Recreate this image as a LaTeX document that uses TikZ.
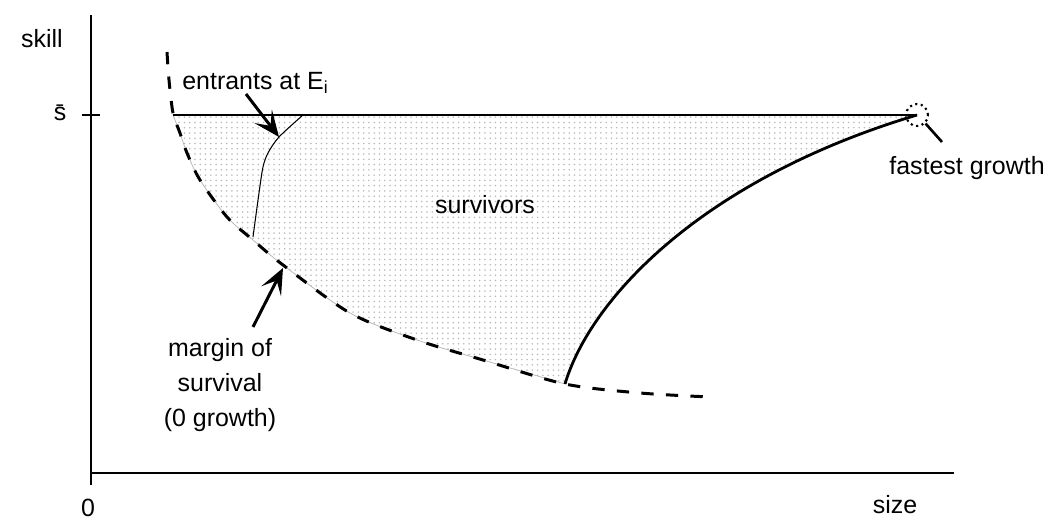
\documentclass[tikz,border=0pt]{standalone}
\usepackage{fontspec}
\setmainfont{Liberation Sans}
\usetikzlibrary{arrows.meta, patterns}

\begin{document}
\begin{tikzpicture}[
  x=0.02cm, y=-0.02cm,
  font=\fontsize{14.2}{19.8}\selectfont,
  axis/.style={line width=1.4pt},
  bound/.style={line width=1.6pt},
  margin/.style={line width=1.7pt, dash pattern=on 7pt off 7pt},
  pointer/.style={-{Stealth[length=5.2mm, width=4.4mm, inset=2.4mm]}, line width=1.7pt},
  lbl/.style={inner sep=0pt, align=center}
]
\useasboundingbox (0,0) rectangle (1063,523);

\coordinate (origin) at (91,473);
\coordinate (ytop) at (91,15);
\coordinate (ybot) at (91,485);
\coordinate (xend) at (954,473);
\coordinate (tickl) at (82,115);
\coordinate (tickr) at (100,115);
\coordinate (top) at (173,115);
\coordinate (low) at (565,384);
\coordinate (entrytop) at (303,115);

\path[pattern=dots, pattern color=gray!55, draw=gray!60, line width=0.4pt]
  (top) -- (917,115) .. controls (700,180) and (590,300) .. (low)
  -- plot[smooth] coordinates {(565,384) (483,360) (417,340) (350,313) (283,265) (253,240) (227,217) (200,180) (187,153) (180,133) (173,115)}
  -- cycle;

\draw[axis] (ytop) -- (ybot);
\draw[axis] (origin) -- (xend);
\draw[axis] (tickl) -- (tickr);

\node[lbl] (skill) at (42,39) {skill};
\node[lbl] (sbar) at (60,113) {s\char"0304};
\node[lbl] (zero) at (88,508) {0};
\node[lbl] (size) at (895,505) {size};

\node[draw, circle, dotted, line width=1.2pt, minimum size=0.44cm, inner sep=0pt] (fast) at (917,115) {};

\draw[bound] (top) -- (fast.center);
\draw[bound] (fast.center) .. controls (700,180) and (590,300) .. (low);
\draw[margin] plot[smooth] coordinates {(167,52) (169,80) (173,113) (180,133) (187,153) (200,180) (227,217) (253,240) (283,265) (350,313) (417,340) (483,360) (565,384) (640,393) (710,397)};
\draw[line width=0.6pt] plot[smooth] coordinates {(entrytop) (279,137) (268,153) (263,167) (259,193) (253,237)};

\node[lbl, anchor=base west] (entrants) at (182,90) {entrants at E$_{\mathrm{i}}$};
\node[lbl] (survivors) at (485,205) {survivors};
\node[lbl] (marginlbl) at (220,385) {margin of\\survival\\(0 growth)};
\node[lbl] (fastlbl) at (967,168) {fastest growth};

\coordinate (entrytail) at (246,94);
\coordinate (entrytip) at (279,137);
\coordinate (margintail) at (253,327);
\coordinate (margintip) at (283,268);
\coordinate (fasttail) at (942,142);

\draw[pointer] (entrytail) -- (entrytip);
\draw[pointer] (margintail) -- (margintip);
\draw[line width=1.5pt] (fast.-45) -- (fasttail);
\end{tikzpicture}
\end{document}
